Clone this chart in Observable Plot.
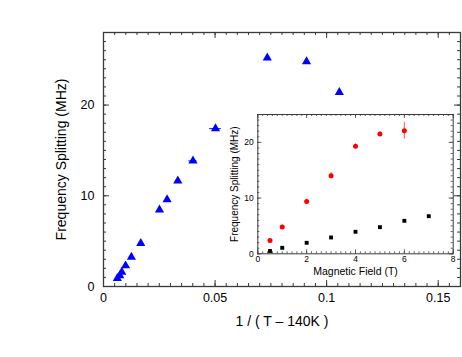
<!DOCTYPE html>
<html>
<head>
<meta charset="utf-8">
<script src="https://cdn.jsdelivr.net/npm/d3@7"></script>
<script src="https://cdn.jsdelivr.net/npm/@observablehq/plot@0.6"></script>
<style>
  html, body { margin: 0; padding: 0; background: #fff; }
  #wrap { position: relative; width: 462px; height: 357px; overflow: hidden; }
  #wrap svg { position: absolute; }
</style>
</head>
<body>
<div id="wrap"></div>
<script>
// ---- main chart data: splitting vs 1/(T-140K) ----
const invT = [0.0062, 0.0073, 0.0082, 0.0099, 0.0125, 0.0167, 0.0251, 0.0285, 0.0333, 0.0401, 0.0502, 0.0734, 0.0910, 0.1057];
const splitMain = [0.91, 1.21, 1.59, 2.29, 3.24, 4.75, 8.46, 9.59, 11.65, 13.85, 17.4, 25.2, 24.8, 21.4];
const invTErr = [0, 0, 0, 0, 0, 0, 0, 0, 0.0011, 0.0018, 0.0026, 0, 0, 0];

// ---- inset data: splitting vs magnetic field ----
const fieldRed = [0.5, 1, 2, 3, 4, 5, 6];
const splitRed = [2.4, 4.8, 9.4, 14.0, 19.3, 21.5, 22.1];
const errRed = [0.2, 0.3, 0.4, 0.6, 0.4, 0.4, 1.5];
const fieldBlack = [0.5, 1, 2, 3, 4, 5, 6, 7];
const splitBlack = [0.5, 1.07, 1.97, 2.93, 3.95, 4.78, 5.92, 6.75];

// ---- tick labels ----
const mainXTicks = [0, 0.05, 0.1, 0.15];
const mainXTickLabels = ["0", "0.05", "0.1", "0.15"];
const mainYTicks = [0, 10, 20];
const insetXTicks = [0, 2, 4, 6, 8];
const insetYTicks = [0, 10, 20];

const mainXLabel = "1 / ( T \u2013 140K )";
const mainYLabel = "Frequency Splitting (MHz)";
const insetXLabel = "Magnetic Field (T)";
const insetYLabel = "Frequency Splitting (MHz)";

const FONT = "'Liberation Sans', Arial, Helvetica, sans-serif";
const frameColor = "#3a3a3a";

const mainData = invT.map((x, i) => ({x, y: splitMain[i], e: invTErr[i]}));
const redData = fieldRed.map((x, i) => ({x, y: splitRed[i], e: errRed[i]}));
const blackData = fieldBlack.map((x, i) => ({x, y: splitBlack[i]}));

function inwardTicks(xMinor, xMajor, yMinor, yMajor, FW, FH, minor, major, sw) {
  const o = {stroke: frameColor, strokeWidth: sw};
  return [
    Plot.tickX(xMinor, {x: d => d, insetTop: FH - minor, ...o}),
    Plot.tickX(xMinor, {x: d => d, insetBottom: FH - minor, ...o}),
    Plot.tickX(xMajor, {x: d => d, insetTop: FH - major, ...o}),
    Plot.tickX(xMajor, {x: d => d, insetBottom: FH - major, ...o}),
    Plot.tickY(yMinor, {y: d => d, insetRight: FW - minor, ...o}),
    Plot.tickY(yMinor, {y: d => d, insetLeft: FW - minor, ...o}),
    Plot.tickY(yMajor, {y: d => d, insetRight: FW - major, ...o}),
    Plot.tickY(yMajor, {y: d => d, insetLeft: FW - major, ...o})
  ];
}

// ---- main plot ----
const M = {l: 103, r: 2, t: 32, b: 71};
const mainW = 462, mainH = 357;
const mFW = mainW - M.l - M.r, mFH = mainH - M.t - M.b;
const mainXMinor = d3.range(0, 0.1601, 0.005);
const mainYMinor = d3.range(0, 28.01, 1);

const main = Plot.plot({
  width: mainW, height: mainH,
  marginLeft: M.l, marginRight: M.r, marginTop: M.t, marginBottom: M.b,
  style: {fontFamily: FONT, background: "transparent", color: "#000"},
  x: {domain: [0, 0.16]},
  y: {domain: [0, 28]},
  marks: [
    ...inwardTicks(mainXMinor, mainXTicks, mainYMinor, mainYTicks, mFW, mFH, 3, 6, 1),
    Plot.frame({stroke: frameColor, strokeWidth: 1.3}),
    Plot.axisX(mainXTicks, {tickSize: 0, tickPadding: 7, fontSize: 12.5, label: null,
      tickFormat: d => mainXTickLabels[mainXTicks.indexOf(d)]}),
    Plot.axisY(mainYTicks, {tickSize: 0, tickPadding: 9, fontSize: 12.5, label: null}),
    Plot.text([mainXLabel], {frameAnchor: "bottom", text: d => d, dy: 35, fontSize: 14,
      textAnchor: "middle", lineAnchor: "middle"}),
    Plot.text([mainYLabel], {frameAnchor: "left", text: d => d, rotate: -90, dx: -42, fontSize: 14,
      textAnchor: "middle", lineAnchor: "middle"}),
    Plot.ruleY(mainData.filter(d => d.e > 0), {y: "y", x1: d => d.x - d.e, x2: d => d.x + d.e, stroke: "#0000ff", strokeWidth: 1}),
    Plot.dot(mainData, {x: "x", y: "y", symbol: "triangle", r: 3.4, fill: "#0000ff", stroke: "none"})
  ]
});
main.style.left = "0px";
main.style.top = "0px";

// ---- inset plot ----
const IL = 228, IT = 105, IW = 234, IH = 180;
const I = {l: 257.3 - IL, r: IL + IW - 452.7, t: 114 - IT, b: IT + IH - 253.3};
const iFW = IW - I.l - I.r, iFH = IH - I.t - I.b;
const insetXMinor = d3.range(0, 8.001, 0.2);
const insetYMinor = d3.range(0, 25.01, 1);

const inset = Plot.plot({
  width: IW, height: IH,
  marginLeft: I.l, marginRight: I.r, marginTop: I.t, marginBottom: I.b,
  style: {fontFamily: FONT, background: "transparent", color: "#000"},
  x: {domain: [0, 8]},
  y: {domain: [0, 25]},
  marks: [
    Plot.frame({fill: "#fff", stroke: "none"}),
    ...inwardTicks(insetXMinor, insetXTicks, insetYMinor, insetYTicks, iFW, iFH, 2, 4, 0.8),
    Plot.frame({stroke: frameColor, strokeWidth: 1}),
    Plot.axisX(insetXTicks, {tickSize: 0, tickPadding: 2, fontSize: 8.5, label: null}),
    Plot.axisY(insetYTicks, {tickSize: 0, tickPadding: 4, fontSize: 8.5, label: null}),
    Plot.text([insetXLabel], {frameAnchor: "bottom", text: d => d, dy: 17.5, fontSize: 10.5,
      textAnchor: "middle", lineAnchor: "middle"}),
    Plot.text([insetYLabel], {frameAnchor: "left", text: d => d, rotate: -90, dx: -23.5, fontSize: 10,
      textAnchor: "middle", lineAnchor: "middle"}),
    Plot.ruleX(redData, {x: "x", y1: d => d.y - d.e, y2: d => d.y + d.e, stroke: "#ff5050", strokeWidth: 1}),
    Plot.dot(redData, {x: "x", y: "y", r: 2.5, fill: "#ff0000", stroke: "none"}),
    Plot.dot(blackData, {x: "x", y: "y", symbol: "square", r: 2.2, fill: "#000", stroke: "none"})
  ]
});
inset.style.left = IL + "px";
inset.style.top = IT + "px";

const wrap = document.getElementById("wrap");
wrap.appendChild(main);
wrap.appendChild(inset);
</script>
</body>
</html>
